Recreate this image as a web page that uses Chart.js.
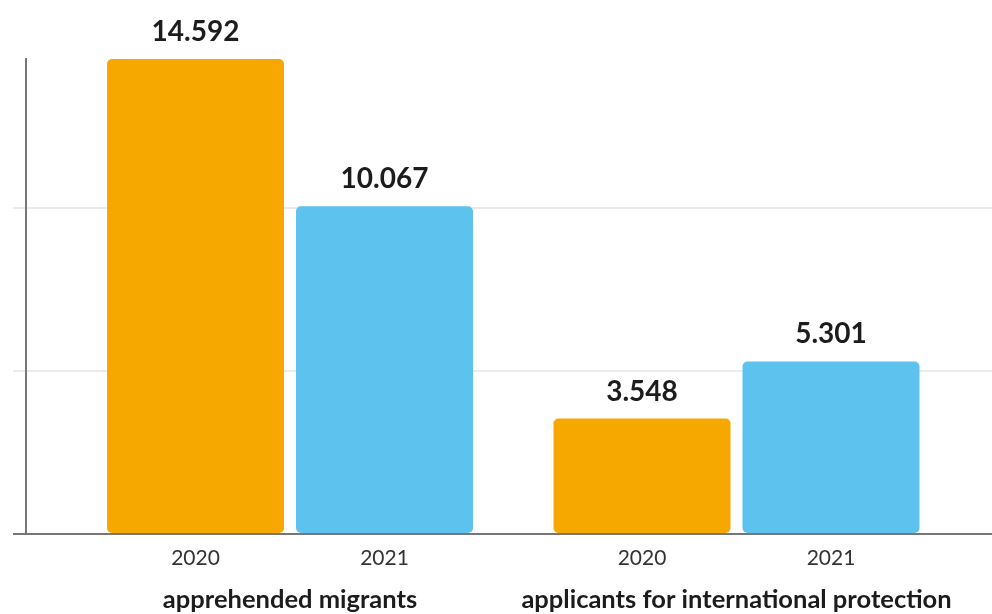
<!DOCTYPE html>
<html>
<head>
<meta charset="utf-8">
<script src="https://cdn.jsdelivr.net/npm/chart.js@4.4.1/dist/chart.umd.min.js"></script>
<style>
  html, body { margin: 0; padding: 0; background: #fff; }
  .chart-box { width: 992px; height: 614px; position: relative; }
</style>
</head>
<body>
<div class="chart-box"><canvas id="migrantsChart"></canvas></div>
<script>
const categories = ["apprehended migrants", "applicants for international protection"];
const years = ["2020", "2021"];
const values2020 = [14592, 3548];
const values2021 = [10067, 5301];
const yGridTicks = [0, 5000, 10000];

// 14592 -> "14.592"
const fmt = (n) => String(n).replace(/\B(?=(\d{3})+(?!\d))/g, ".");

// value above each bar, year under each bar
const barLabels = {
  id: "barLabels",
  afterDatasetsDraw(chart) {
    const { ctx, scales } = chart;
    ctx.save();
    ctx.textAlign = "center";
    chart.data.datasets.forEach((ds, di) => {
      const meta = chart.getDatasetMeta(di);
      meta.data.forEach((bar, i) => {
        ctx.font = "bold 28px Lato";
        ctx.fillStyle = "#1c1c1c";
        ctx.textBaseline = "alphabetic";
        ctx.fillText(fmt(ds.data[i].y), bar.x, bar.y - 18);
        ctx.font = "21px Lato";
        ctx.fillStyle = "#333";
        ctx.textBaseline = "middle";
        ctx.fillText(ds.label, bar.x, scales.y.bottom + 24);
      });
    });
    ctx.restore();
  }
};

const seriesValues = [values2020, values2021];
const seriesColors = ["#f6a800", "#5dc2ee"];

new Chart(document.getElementById("migrantsChart"), {
  type: "bar",
  data: {
    datasets: years.map((year, k) => ({
      label: year,
      data: seriesValues[k].map((v, i) => ({ x: i, y: v })),
      backgroundColor: seriesColors[k],
    })),
  },
  options: {
    responsive: true,
    maintainAspectRatio: false,
    animation: false,
    layout: { padding: { top: 59, left: 0, right: 0, bottom: 0 } },
    plugins: {
      legend: { display: false },
      tooltip: { enabled: false },
    },
    datasets: {
      bar: {
        categoryPercentage: 0.8466,
        barPercentage: 0.9365,
        borderRadius: 5,
        borderSkipped: false,
      },
    },
    scales: {
      x: {
        type: "linear",
        min: -0.5913,
        max: 1.5722,
        offset: false,
        z: 1,
        afterBuildTicks: (axis) => {
          axis.ticks = categories.map((c, i) => ({ value: i }));
        },
        afterFit: (axis) => {
          axis.height = 80;
          axis.paddingLeft = 0;
          axis.paddingRight = 0;
        },
        ticks: {
          callback: (v) => categories[v],
          font: { family: "Lato", size: 25.5, weight: "bold" },
          color: "#1c1c1c",
          padding: 50,
          maxRotation: 0,
          autoSkip: false,
        },
        grid: { display: false, drawTicks: false, offset: false },
        border: { display: true, color: "#777", width: 2 },
      },
      y: {
        min: 0,
        max: Math.max(...values2020, ...values2021),
        afterBuildTicks: (axis) => {
          axis.ticks = yGridTicks.map((v) => ({ value: v }));
        },
        afterFit: (axis) => {
          axis.width = 26;
        },
        ticks: { display: false },
        grid: {
          color: (c) => (c.tick.value === 0 ? "rgba(0,0,0,0)" : "#ebebeb"),
          tickColor: (c) => (c.tick.value === 0 ? "#777" : "#ebebeb"),
          lineWidth: 2,
          tickLength: 13,
        },
        border: { display: true, color: "#777", width: 2 },
      },
    },
  },
  plugins: [barLabels],
});
</script>
</body>
</html>
